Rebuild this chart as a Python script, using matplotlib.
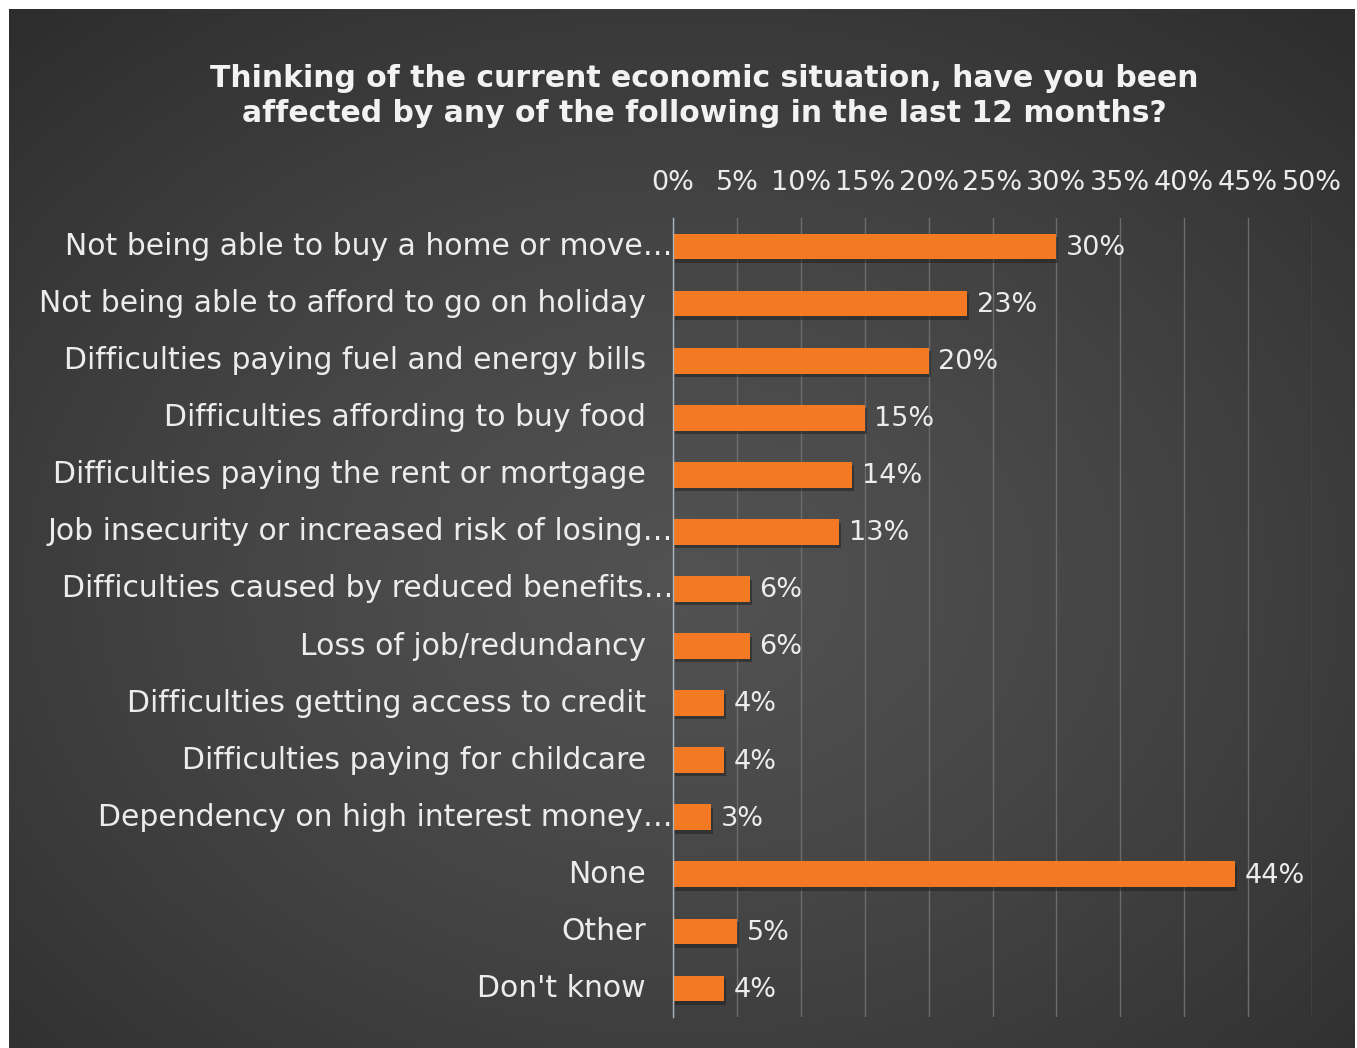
import numpy as np
import matplotlib
matplotlib.use('Agg')
import matplotlib.pyplot as plt
import matplotlib.patheffects as pe

categories = [
    "Not being able to buy a home or move…",
    "Not being able to afford to go on holiday",
    "Difficulties paying fuel and energy bills",
    "Difficulties affording to buy food",
    "Difficulties paying the rent or mortgage",
    "Job insecurity or increased risk of losing…",
    "Difficulties caused by reduced benefits…",
    "Loss of job/redundancy",
    "Difficulties getting access to credit",
    "Difficulties paying for childcare",
    "Dependency on high interest money…",
    "None",
    "Other",
    "Don't know",
]
values = [30, 23, 20, 15, 14, 13, 6, 6, 4, 4, 3, 44, 5, 4]
ticks = [0, 5, 10, 15, 20, 25, 30, 35, 40, 45, 50]

title = ("Thinking of the current economic situation, have you been\n"
         "affected by any of the following in the last 12 months?")

W, H = 1357, 1048
fig = plt.figure(figsize=(W / 100, H / 100), dpi=100)
fig.patch.set_facecolor('white')

# dark panel with a soft radial glow
bg = fig.add_axes([9 / W, 0, 1346 / W, 1039 / H])
bg.set_axis_off()
yy, xx = np.mgrid[0:400, 0:520]
cx, cy = 0.50 * 520, 0.55 * 400
r = np.sqrt(((xx - cx) / 520) ** 2 + ((yy - cy) / 400) ** 2) / 0.72
r = np.clip(r, 0, 1)
shade = 0.32 - 0.14 * r ** 1.3
img = np.dstack([shade, shade, shade])
bg.imshow(img, aspect='auto', extent=[0, 1, 0, 1], interpolation='bilinear')
bg.set_xlim(0, 1)
bg.set_ylim(0, 1)

fig.text(704 / W, 1 - 96 / H, title, ha='center', va='center',
         fontsize=21.5, fontweight='bold', color='#f2f2f2',
         linespacing=1.22)

ax = fig.add_axes([673 / W, 1 - 1017 / H, 639 / W, 799 / H])
ax.patch.set_alpha(0)
y = np.arange(len(categories))
bars = ax.barh(y, values, height=0.45, color='#f37a22', zorder=3)
for b in bars:
    b.set_path_effects([pe.SimplePatchShadow(offset=(1.5, -2.5), shadow_rgbFace='#1e1e1e', alpha=0.5),
                        pe.Normal()])

ax.set_xlim(0, 50)
ax.set_ylim(len(categories) - 0.5, -0.5)
ax.set_xticks(ticks)
ax.set_xticklabels([f"{t}%" for t in ticks])
ax.xaxis.tick_top()
ax.tick_params(axis='x', length=0, pad=16, labelsize=19.5, labelcolor='#ececec')
ax.set_yticks([])
ax.grid(axis='x', color='#6c6c6c', lw=1.0, zorder=1)
for s in ['top', 'right', 'bottom']:
    ax.spines[s].set_visible(False)
ax.spines['left'].set_color('#a9b4bf')
ax.spines['left'].set_linewidth(1.0)
ax.spines['left'].set_zorder(4)

for yi, (lab, v) in enumerate(zip(categories, values)):
    off = 0 if lab.endswith('…') else -19.5
    ax.annotate(lab, (0, yi), xytext=(off, 0), textcoords='offset points',
                ha='right', va='center', fontsize=21.5, color='#ececec')
    ax.annotate(f"{v}%", (v, yi), xytext=(7, -1), textcoords='offset points',
                ha='left', va='center', fontsize=19.5, color='#ececec')

fig.savefig('out.png', dpi=100)
